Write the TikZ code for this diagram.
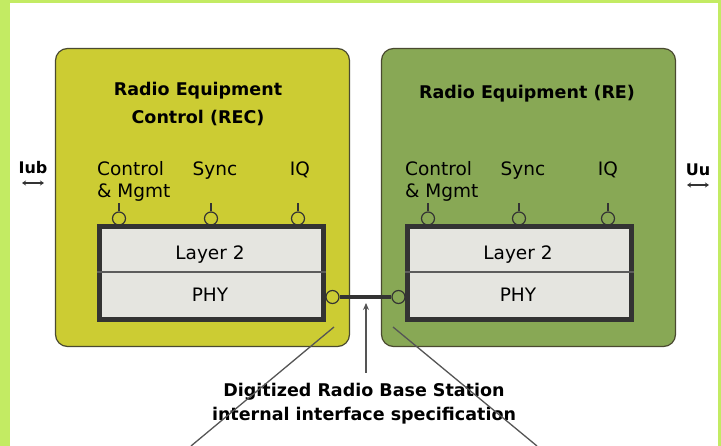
\documentclass[tikz,border=0pt]{standalone}
\usepackage{fontspec}
\setmainfont{DejaVu Sans}
\usetikzlibrary{arrows.meta}
\definecolor{framegreen}{HTML}{C3EB63}
\definecolor{recfill}{HTML}{CCCC33}
\definecolor{refill}{HTML}{88A855}
\definecolor{stackfill}{HTML}{E5E5E0}
\definecolor{darkline}{HTML}{333333}
\definecolor{boxedge}{HTML}{4A4A30}
\definecolor{leader}{HTML}{555555}
\tikzset{
  unitbox/.style={draw=boxedge, line width=1.2pt, rounded corners=12pt,
    minimum width=294pt, minimum height=298pt, inner sep=0pt},
  stackbox/.style={draw=darkline, fill=stackfill, line width=5pt,
    minimum width=224pt, minimum height=93pt, inner sep=0pt},
  port/.style={circle, draw=darkline, line width=1.2pt, minimum size=13pt, inner sep=0pt},
  stem/.style={draw=darkline, line width=1.2pt},
  title/.style={font=\fontsize{17.5}{28}\selectfont\bfseries, align=center, inner sep=0pt},
  plain/.style={font=\fontsize{18.5}{22}\selectfont, inner sep=0pt},
  iflabel/.style={font=\fontsize{16}{18}\selectfont\bfseries, inner sep=0pt},
  spec/.style={font=\fontsize{17.5}{24}\selectfont\bfseries, align=center, inner sep=0pt},
  link/.style={draw=darkline, line width=4pt},
  leaderline/.style={draw=leader, line width=1.3pt},
  bidir/.style={draw=darkline, line width=1.2pt, {Stealth[length=4pt,width=5pt]}-{Stealth[length=4pt,width=5pt]}}
}
\begin{document}
\begin{tikzpicture}[x=1pt,y=-1pt]
\useasboundingbox (0,0) rectangle (721,446);
% page frame
\fill[framegreen] (0,0) rectangle (721,446);
\fill[white] (10,3) rectangle (718,446);

% the two units
\node[unitbox, fill=recfill] (rec) at (202.5,197.5) {};
\node[unitbox, fill=refill] (re) at (528.5,197.5) {};

\node[title] (rectitle) at (198,104) {Radio Equipment\\Control (REC)};
\node[title, anchor=base] (retitle) at (527,99) {Radio Equipment (RE)};

% service access points on top of each stack
\foreach \nm/\x/\f in {recA/119/recfill, recB/211/recfill, recC/298/recfill,
                       reA/428/refill, reB/519/refill, reC/608/refill}{
  \node[port, fill=\f] (\nm) at (\x,218.5) {};
  \draw[stem] (\nm.north) -- ++(0,-8);
}
% PHY ports facing each other
\node[port, fill=recfill] (recphy) at (332.5,297) {};
\node[port, fill=refill] (rephy) at (398.5,297) {};
\draw[link] (recphy.east) -- (rephy.west);

% protocol stacks
\node[stackbox] (recstack) at (211.5,273) {};
\node[stackbox] (restack) at (519.5,273) {};
\draw[draw=darkline!80, line width=1.5pt] (recstack.west |- 0,272) -- (recstack.east |- 0,272);
\draw[draw=darkline!80, line width=1.5pt] (restack.west |- 0,272) -- (restack.east |- 0,272);

\node[plain, anchor=base] (recl2) at (210,260) {Layer 2};
\node[plain, anchor=base] (recphyl) at (210,302) {PHY};
\node[plain, anchor=base] (rel2) at (518,260) {Layer 2};
\node[plain, anchor=base] (rephyl) at (518,302) {PHY};

% SAP labels
\node[plain, anchor=base west] (recctl) at (97,176) {Control};
\node[plain, anchor=base west] (recmg) at (97,198) {\& Mgmt};
\node[plain, anchor=base] (recsync) at (215,176) {Sync};
\node[plain, anchor=base] (reciq) at (300,176) {IQ};
\node[plain, anchor=base west] (rectl) at (405,176) {Control};
\node[plain, anchor=base west] (remg) at (405,198) {\& Mgmt};
\node[plain, anchor=base] (resync) at (523,176) {Sync};
\node[plain, anchor=base] (reiq) at (608,176) {IQ};

% external interfaces
\node[iflabel, anchor=base] (iub) at (33,174) {Iub};
\coordinate (iubL) at (22,183);
\coordinate (iubR) at (44,183);
\draw[bidir] (iubL) -- (iubR);
\node[iflabel, anchor=base] (uu) at (698,176) {Uu};
\coordinate (uuL) at (687,185);
\coordinate (uuR) at (709,185);
\draw[bidir] (uuL) -- (uuR);

% interface specification callout
\node[spec, anchor=base] (specA) at (364,397) {Digitized Radio Base Station};
\node[spec, anchor=base] (specB) at (364,421) {internal interface specification};
\coordinate (arrowfoot) at (366,373);
\coordinate (arrowtip) at (366,303);
\draw[leaderline, -{Stealth[length=7pt,width=6pt]}] (arrowfoot) -- (arrowtip);

% leader lines running out of the picture
\coordinate (lfA) at (334,327);
\coordinate (lfB) at (191,446);
\coordinate (rtA) at (393,327);
\coordinate (rtB) at (537,446);
\draw[leaderline] (lfA) -- (lfB);
\draw[leaderline] (rtA) -- (rtB);
\end{tikzpicture}
\end{document}
